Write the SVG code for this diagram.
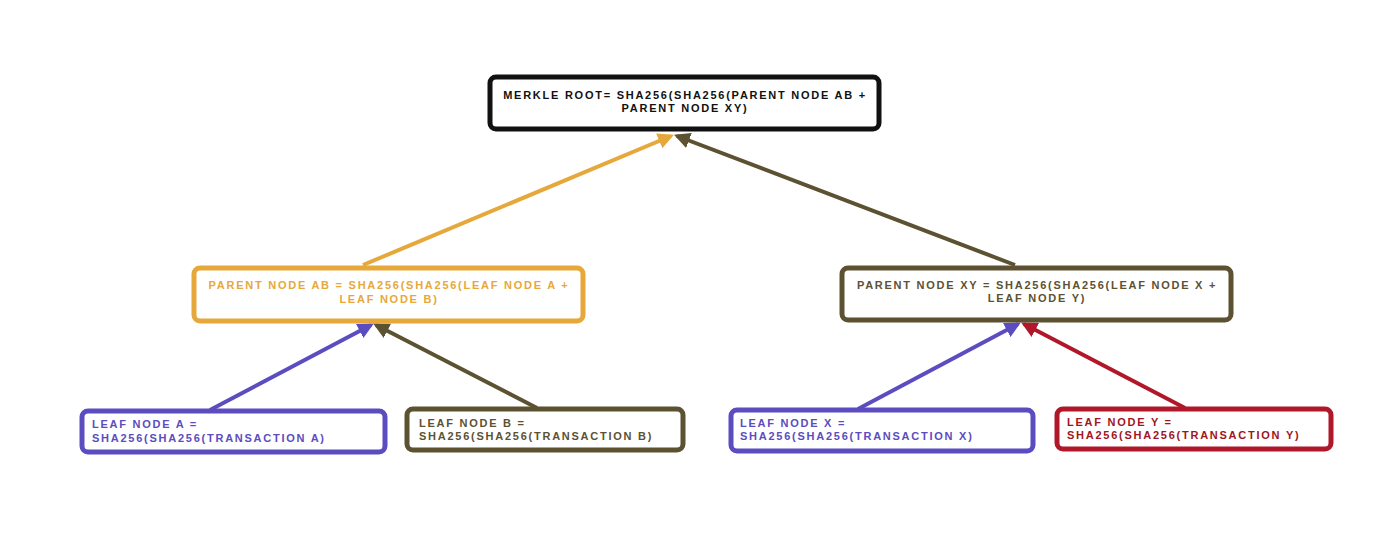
<svg xmlns="http://www.w3.org/2000/svg" width="1400" height="559" viewBox="0 0 1400 559">
<style>
.box{fill:#fff;stroke-width:5}
.t{font-family:"Liberation Sans",Arial,sans-serif;font-weight:bold;font-size:11px;letter-spacing:1.75px}
.c{text-anchor:middle}
.e{fill:none;stroke-width:4}
</style>
<defs>
<marker id="aO" viewBox="0 0 10 10" refX="8" refY="5" markerWidth="4" markerHeight="4" orient="auto" markerUnits="strokeWidth"><path d="M0,0L10,5L0,10z" fill="#E6A83A"/></marker>
<marker id="aB" viewBox="0 0 10 10" refX="8" refY="5" markerWidth="4" markerHeight="4" orient="auto" markerUnits="strokeWidth"><path d="M0,0L10,5L0,10z" fill="#5C5232"/></marker>
<marker id="aP" viewBox="0 0 10 10" refX="8" refY="5" markerWidth="4" markerHeight="4" orient="auto" markerUnits="strokeWidth"><path d="M0,0L10,5L0,10z" fill="#5B4CC0"/></marker>
<marker id="aR" viewBox="0 0 10 10" refX="8" refY="5" markerWidth="4" markerHeight="4" orient="auto" markerUnits="strokeWidth"><path d="M0,0L10,5L0,10z" fill="#B0182A"/></marker>
</defs>
<rect width="1400" height="559" fill="#fff"/>
<g id="connectors">
<line class="e" x1="363" y1="265" x2="671" y2="136" stroke="#E6A83A" marker-end="url(#aO)"/>
<line class="e" x1="1015" y1="265" x2="677" y2="136" stroke="#5C5232" marker-end="url(#aB)"/>
<line class="e" x1="210" y1="410" x2="371" y2="325" stroke="#5B4CC0" marker-end="url(#aP)"/>
<line class="e" x1="537" y1="408" x2="376" y2="325" stroke="#5C5232" marker-end="url(#aB)"/>
<line class="e" x1="858" y1="409" x2="1018" y2="324" stroke="#5B4CC0" marker-end="url(#aP)"/>
<line class="e" x1="1185" y1="408" x2="1024" y2="324" stroke="#B0182A" marker-end="url(#aR)"/>
</g>
<g id="root">
<rect class="box" x="490" y="77" width="389" height="52" rx="6" stroke="#111"/>
<text class="t c" x="685" y="99" fill="#111">MERKLE ROOT= SHA256(SHA256(PARENT NODE AB +</text>
<text class="t c" x="685" y="112" fill="#111">PARENT NODE XY)</text>
</g>
<g id="parentAB">
<rect class="box" x="194" y="268" width="389" height="53" rx="6" stroke="#E6A83A"/>
<text class="t c" x="389" y="289" fill="#E6A83A">PARENT NODE AB = SHA256(SHA256(LEAF NODE A +</text>
<text class="t c" x="389" y="303" fill="#E6A83A">LEAF NODE B)</text>
</g>
<g id="parentXY">
<rect class="box" x="842" y="268" width="389" height="52" rx="6" stroke="#5C5232"/>
<text class="t c" x="1037" y="289" fill="#5C5232">PARENT NODE XY = SHA256(SHA256(LEAF NODE X +</text>
<text class="t c" x="1037" y="302" fill="#5C5232">LEAF NODE Y)</text>
</g>
<g id="leafA">
<rect class="box" x="82" y="411" width="303" height="41" rx="6" stroke="#5B4CC0"/>
<text class="t" x="92" y="428" fill="#5B4CC0">LEAF NODE A =</text>
<text class="t" x="92" y="442" fill="#5B4CC0">SHA256(SHA256(TRANSACTION A)</text>
</g>
<g id="leafB">
<rect class="box" x="407" y="409" width="276" height="41" rx="6" stroke="#5C5232"/>
<text class="t" x="419" y="427" fill="#5C5232">LEAF NODE B =</text>
<text class="t" x="419" y="440" fill="#5C5232">SHA256(SHA256(TRANSACTION B)</text>
</g>
<g id="leafX">
<rect class="box" x="731" y="410" width="302" height="41" rx="6" stroke="#5B4CC0"/>
<text class="t" x="740" y="427" fill="#5B4CC0">LEAF NODE X =</text>
<text class="t" x="740" y="440" fill="#5B4CC0">SHA256(SHA256(TRANSACTION X)</text>
</g>
<g id="leafY">
<rect class="box" x="1057" y="409" width="274" height="40" rx="6" stroke="#B0182A"/>
<text class="t" x="1067" y="426" fill="#9E1622">LEAF NODE Y =</text>
<text class="t" x="1067" y="439" fill="#9E1622">SHA256(SHA256(TRANSACTION Y)</text>
</g>
</svg>
